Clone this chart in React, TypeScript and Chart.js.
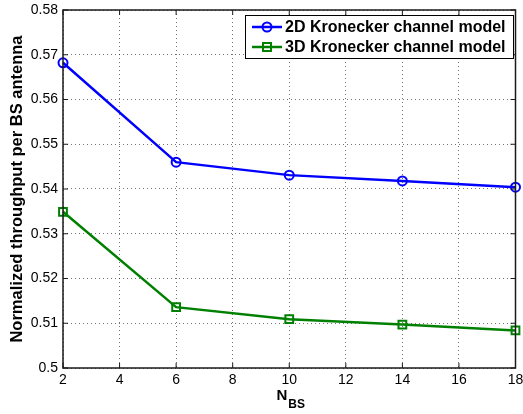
import React, { useEffect, useRef } from "react";
import { Chart, registerables } from "chart.js";

Chart.register(...registerables);

const nBS = [2, 6, 10, 14, 18];
const kron2D = [0.5682, 0.5460, 0.5431, 0.5418, 0.5404];
const kron3D = [0.5349, 0.5136, 0.5109, 0.5097, 0.5084];
const seriesNames = ["2D Kronecker channel model", "3D Kronecker channel model"];
const seriesColors = ["#0000ff", "#008000"];
const xTicksMin = 2;
const xTicksMax = 18;
const yMin = 0.5;
const yMax = 0.58;
const yTitle = "Normalized throughput per BS antenna";
const xTitleMain = "N";
const xTitleSub = "BS";

const FONT = "'Liberation Sans', Arial, Helvetica, sans-serif";

const framePlugin = {
  id: "framePlugin",
  afterDraw(chart: any) {
    const { ctx, chartArea } = chart;
    const { left, right, top, bottom } = chartArea;
    const xs = chart.scales.x;
    const ys = chart.scales.y;
    ctx.save();
    // frame
    ctx.strokeStyle = "#1a1a1a";
    ctx.lineWidth = 1.5;
    ctx.setLineDash([]);
    ctx.strokeRect(left, top, right - left, bottom - top);
    // inward ticks
    ctx.lineWidth = 1;
    const tl = 5;
    ctx.beginPath();
    xs.ticks.forEach((t: any) => {
      const px = xs.getPixelForValue(t.value);
      ctx.moveTo(px, bottom);
      ctx.lineTo(px, bottom - tl);
      ctx.moveTo(px, top);
      ctx.lineTo(px, top + tl);
    });
    ys.ticks.forEach((t: any) => {
      const py = ys.getPixelForValue(t.value);
      ctx.moveTo(left, py);
      ctx.lineTo(left + tl, py);
      ctx.moveTo(right, py);
      ctx.lineTo(right - tl, py);
    });
    ctx.stroke();

    // x title with subscript
    ctx.fillStyle = "#000";
    ctx.textBaseline = "alphabetic";
    ctx.textAlign = "left";
    ctx.font = `bold 15px ${FONT}`;
    const mainW = ctx.measureText(xTitleMain).width;
    ctx.font = `bold 12px ${FONT}`;
    const subW = ctx.measureText(xTitleSub).width;
    const cx = (left + right) / 2 + 1;
    const startX = cx - (mainW + subW) / 2;
    ctx.font = `bold 15px ${FONT}`;
    ctx.fillText(xTitleMain, startX, 400);
    ctx.font = `bold 12px ${FONT}`;
    ctx.fillText(xTitleSub, startX + mainW + 1, 408);

    // legend
    const bx = 245, by = 15, bw = 268, bh = 43;
    ctx.fillStyle = "#fff";
    ctx.fillRect(bx, by, bw, bh);
    ctx.strokeStyle = "#000";
    ctx.lineWidth = 1;
    ctx.strokeRect(bx + 0.5, by + 0.5, bw, bh);
    const rows = [27, 47];
    chart.data.datasets.forEach((ds: any, i: number) => {
      const y = rows[i];
      ctx.strokeStyle = ds.borderColor;
      ctx.lineWidth = 2.5;
      ctx.beginPath();
      ctx.moveTo(252, y);
      ctx.lineTo(282, y);
      ctx.stroke();
      ctx.lineWidth = 2;
      ctx.beginPath();
      if (ds.pointStyle === "rect") {
        ctx.rect(267 - 4, y - 4, 8, 8);
      } else {
        ctx.arc(267, y, 4.5, 0, Math.PI * 2);
      }
      ctx.stroke();
      ctx.fillStyle = "#000";
      ctx.font = `bold 16px ${FONT}`;
      ctx.textBaseline = "middle";
      ctx.fillText(ds.label, 285, y + 1);
    });
    ctx.restore();
  },
};

export default function App() {
  const ref = useRef<HTMLCanvasElement | null>(null);

  useEffect(() => {
    document.body.style.margin = "0";
    document.body.style.overflow = "hidden";
    if (!ref.current) return;
    const chart = new Chart(ref.current, {
      type: "line",
      data: {
        datasets: [
          {
            label: seriesNames[0],
            data: nBS.map((x, i) => ({ x, y: kron2D[i] })),
            borderColor: seriesColors[0],
            backgroundColor: "transparent",
            borderWidth: 2.5,
            pointStyle: "circle",
            pointRadius: 4.5,
            pointBorderWidth: 2,
            pointBackgroundColor: "transparent",
            pointBorderColor: seriesColors[0],
            tension: 0,
          },
          {
            label: seriesNames[1],
            data: nBS.map((x, i) => ({ x, y: kron3D[i] })),
            borderColor: seriesColors[1],
            backgroundColor: "transparent",
            borderWidth: 2.5,
            pointStyle: "rect",
            pointRadius: 5.5,
            pointBorderWidth: 2,
            pointBackgroundColor: "transparent",
            pointBorderColor: seriesColors[1],
            tension: 0,
          },
        ],
      },
      options: {
        animation: false,
        responsive: false,
        maintainAspectRatio: false,
        clip: false as any,
        layout: { padding: { top: 10, right: 6, left: 0, bottom: 0 } },
        plugins: {
          legend: { display: false },
          tooltip: { enabled: false },
        },
        scales: {
          x: {
            type: "linear",
            min: xTicksMin,
            max: xTicksMax,
            ticks: {
              stepSize: 2,
              color: "#000",
              font: { family: FONT, size: 14 },
              padding: 4,
              maxRotation: 0,
            },
            grid: {
              color: "rgba(0,0,0,0.55)",
              lineWidth: 1,
              drawTicks: false,
            },
            border: { display: false, dash: [1, 3] },
            afterFit: (s: any) => {
              s.height = 46;
              s.paddingLeft = 0;
              s.paddingRight = 0;
            },
          },
          y: {
            type: "linear",
            min: yMin,
            max: yMax,
            ticks: {
              stepSize: 0.01,
              color: "#000",
              font: { family: FONT, size: 14 },
              padding: 5,
              callback: (v: any) => String(Math.round(Number(v) * 100) / 100),
            },
            grid: {
              color: "rgba(0,0,0,0.55)",
              lineWidth: 1,
              drawTicks: false,
            },
            border: { display: false, dash: [1, 3] },
            title: {
              display: true,
              text: yTitle,
              color: "#000",
              font: { family: FONT, size: 16.5, weight: "bold" },
              padding: { top: 8, bottom: 0 },
            },
            afterFit: (s: any) => {
              s.width = 63;
              s.paddingTop = 0;
              s.paddingBottom = 0;
            },
          },
        },
      },
      plugins: [framePlugin],
    });
    return () => chart.destroy();
  }, []);

  return (
    <div style={{ width: 523, height: 414, position: "relative" }}>
      <canvas ref={ref} width={523} height={414} />
    </div>
  );
}
